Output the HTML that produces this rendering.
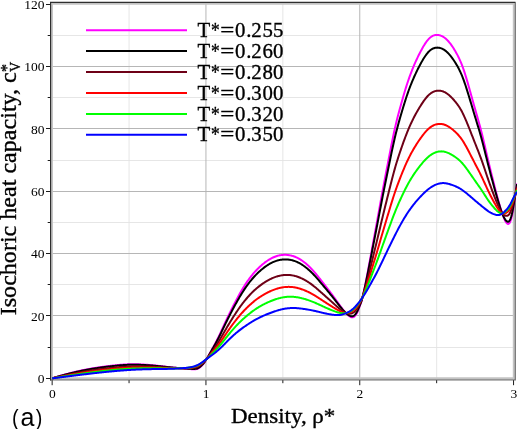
<!DOCTYPE html>
<html><head><meta charset="utf-8"><title>Isochoric heat capacity</title>
<style>
html,body{margin:0;padding:0;background:#fff;}
body{width:517px;height:429px;overflow:hidden;font-family:"Liberation Serif",serif;}
svg{display:block;will-change:transform;}
text{font-family:"Liberation Serif",serif;fill:#000;}
.sans{font-family:"Liberation Sans",sans-serif;}
.cam{stroke:#000;stroke-width:0.35px;}
</style></head><body>
<svg width="517" height="429" viewBox="0 0 517 429">
<rect x="0" y="0" width="517" height="429" fill="#ffffff"/>
<g stroke="#e3e3e3" stroke-width="0.9" fill="none"><line x1="52" x2="514" y1="347.50" y2="347.50"/><line x1="52" x2="514" y1="284.50" y2="284.50"/><line x1="52" x2="514" y1="222.50" y2="222.50"/><line x1="52" x2="514" y1="160.50" y2="160.50"/><line x1="52" x2="514" y1="97.50" y2="97.50"/><line x1="52" x2="514" y1="35.50" y2="35.50"/><line y1="378" y2="4" x1="129.05" x2="129.05"/><line y1="378" y2="4" x1="282.85" x2="282.85"/><line y1="378" y2="4" x1="436.65" x2="436.65"/></g>
<g stroke="#b2b2b2" stroke-width="0.95" fill="none"><line x1="52" x2="514" y1="315.50" y2="315.50"/><line x1="52" x2="514" y1="253.50" y2="253.50"/><line x1="52" x2="514" y1="191.50" y2="191.50"/><line x1="52" x2="514" y1="128.50" y2="128.50"/><line x1="52" x2="514" y1="66.50" y2="66.50"/><line y1="378" y2="4" x1="205.95" x2="205.95"/><line y1="378" y2="4" x1="359.75" x2="359.75"/></g>
<g fill="none"><path d="M52.05,379.2 V3.9 H513.7 V378.2 H52.05" stroke="#c3c3c3" stroke-width="1.8"/><path d="M50,379.9 H515.25 V2.4" stroke="#737373" stroke-width="1.35"/><path d="M50.6,380.6 V2.4 H515.5" stroke="#2e2e2e" stroke-width="1.2"/></g>
<g stroke="#1c1c1c" stroke-width="1.0"><line x1="46.0" x2="50.2" y1="378.50" y2="378.50"/><line x1="47.7" x2="50.2" y1="347.50" y2="347.50"/><line x1="46.0" x2="50.2" y1="315.50" y2="315.50"/><line x1="47.7" x2="50.2" y1="284.50" y2="284.50"/><line x1="46.0" x2="50.2" y1="253.50" y2="253.50"/><line x1="47.7" x2="50.2" y1="222.50" y2="222.50"/><line x1="46.0" x2="50.2" y1="191.50" y2="191.50"/><line x1="47.7" x2="50.2" y1="160.50" y2="160.50"/><line x1="46.0" x2="50.2" y1="128.50" y2="128.50"/><line x1="47.7" x2="50.2" y1="97.50" y2="97.50"/><line x1="46.0" x2="50.2" y1="66.50" y2="66.50"/><line x1="47.7" x2="50.2" y1="35.50" y2="35.50"/><line x1="46.0" x2="50.2" y1="4.50" y2="4.50"/><line y1="380.2" y2="385.2" x1="52.15" x2="52.15"/><line y1="380.2" y2="383.2" x1="129.05" x2="129.05"/><line y1="380.2" y2="385.2" x1="205.95" x2="205.95"/><line y1="380.2" y2="383.2" x1="282.85" x2="282.85"/><line y1="380.2" y2="385.2" x1="359.75" x2="359.75"/><line y1="380.2" y2="383.2" x1="436.65" x2="436.65"/><line y1="380.2" y2="385.2" x1="513.55" x2="513.55"/></g>
<text x="44.6" y="383.2" font-size="13.5" text-anchor="end">0</text><text x="44.6" y="320.8" font-size="13.5" text-anchor="end">20</text><text x="44.6" y="258.4" font-size="13.5" text-anchor="end">40</text><text x="44.6" y="196.0" font-size="13.5" text-anchor="end">60</text><text x="44.6" y="133.6" font-size="13.5" text-anchor="end">80</text><text x="44.6" y="71.2" font-size="13.5" text-anchor="end">100</text><text x="44.6" y="8.9" font-size="13.5" text-anchor="end">120</text><text x="52.4" y="398.4" font-size="13.5" text-anchor="middle">0</text><text x="206.2" y="398.4" font-size="13.5" text-anchor="middle">1</text><text x="359.9" y="398.4" font-size="13.5" text-anchor="middle">2</text><text x="513.8" y="398.4" font-size="13.5" text-anchor="middle">3</text>
<path d="M52.15,378.35 L52.82,378.14 L53.48,377.93 L54.15,377.72 L54.81,377.51 L55.48,377.30 L56.14,377.09 L56.81,376.89 L57.47,376.69 L58.14,376.49 L58.80,376.29 L59.47,376.09 L60.13,375.90 L60.80,375.70 L61.46,375.51 L62.13,375.32 L62.79,375.13 L63.46,374.94 L64.12,374.76 L64.79,374.57 L65.45,374.39 L66.12,374.21 L66.78,374.03 L67.45,373.85 L68.11,373.67 L68.78,373.50 L69.44,373.32 L70.11,373.15 L70.77,372.98 L71.44,372.82 L72.10,372.65 L72.77,372.48 L73.43,372.32 L74.10,372.16 L74.76,372.00 L75.43,371.84 L76.10,371.68 L76.76,371.53 L77.43,371.38 L78.09,371.23 L78.76,371.08 L79.42,370.93 L80.09,370.78 L80.75,370.64 L81.42,370.49 L82.08,370.35 L82.75,370.21 L83.41,370.07 L84.08,369.94 L84.74,369.80 L85.41,369.67 L86.07,369.54 L86.74,369.41 L87.40,369.28 L88.07,369.16 L88.73,369.03 L89.40,368.91 L90.06,368.79 L90.73,368.67 L91.39,368.55 L92.06,368.44 L92.72,368.32 L93.39,368.21 L94.05,368.10 L94.72,367.99 L95.38,367.88 L96.05,367.78 L96.71,367.67 L97.38,367.57 L98.05,367.47 L98.71,367.37 L99.38,367.27 L100.04,367.18 L100.71,367.08 L101.37,366.99 L102.04,366.90 L102.70,366.81 L103.37,366.72 L104.03,366.63 L104.70,366.55 L105.36,366.46 L106.03,366.38 L106.69,366.30 L107.36,366.22 L108.02,366.14 L108.69,366.06 L109.35,365.98 L110.02,365.91 L110.68,365.83 L111.35,365.75 L112.01,365.68 L112.68,365.61 L113.34,365.53 L114.01,365.46 L114.67,365.39 L115.34,365.32 L116.00,365.25 L116.67,365.19 L117.33,365.12 L118.00,365.05 L118.66,364.99 L119.33,364.93 L119.99,364.87 L120.66,364.81 L121.33,364.76 L121.99,364.70 L122.66,364.65 L123.32,364.60 L123.99,364.56 L124.65,364.52 L125.32,364.48 L125.98,364.44 L126.65,364.41 L127.31,364.38 L127.98,364.35 L128.64,364.33 L129.31,364.31 L129.97,364.29 L130.64,364.28 L131.30,364.27 L131.97,364.27 L132.63,364.27 L133.30,364.27 L133.96,364.27 L134.63,364.28 L135.29,364.29 L135.96,364.30 L136.62,364.31 L137.29,364.33 L137.95,364.35 L138.62,364.36 L139.28,364.39 L139.95,364.41 L140.61,364.44 L141.28,364.46 L141.94,364.49 L142.61,364.53 L143.28,364.56 L143.94,364.60 L144.61,364.64 L145.27,364.68 L145.94,364.72 L146.60,364.77 L147.27,364.82 L147.93,364.87 L148.60,364.92 L149.26,364.97 L149.93,365.03 L150.59,365.08 L151.26,365.14 L151.92,365.20 L152.59,365.27 L153.25,365.33 L153.92,365.40 L154.58,365.46 L155.25,365.53 L155.91,365.60 L156.58,365.67 L157.24,365.74 L157.91,365.82 L158.57,365.89 L159.24,365.96 L159.90,366.04 L160.57,366.12 L161.23,366.20 L161.90,366.27 L162.56,366.35 L163.23,366.43 L163.89,366.51 L164.56,366.59 L165.22,366.67 L165.89,366.75 L166.56,366.82 L167.22,366.90 L167.89,366.98 L168.55,367.05 L169.22,367.13 L169.88,367.20 L170.55,367.27 L171.21,367.34 L171.88,367.41 L172.54,367.48 L173.21,367.54 L173.87,367.60 L174.54,367.67 L175.20,367.73 L175.87,367.78 L176.53,367.84 L177.20,367.90 L177.86,367.96 L178.53,368.01 L179.19,368.07 L179.86,368.12 L180.52,368.18 L181.19,368.23 L181.85,368.29 L182.52,368.34 L183.18,368.40 L183.85,368.46 L184.51,368.51 L185.18,368.57 L185.84,368.63 L186.51,368.69 L187.17,368.75 L187.84,368.81 L188.51,368.88 L189.17,368.94 L189.84,369.01 L190.50,369.08 L191.17,369.14 L191.83,369.19 L192.50,369.24 L193.16,369.28 L193.83,369.30 L194.49,369.30 L195.16,369.29 L195.82,369.24 L196.49,369.13 L197.15,368.96 L197.82,368.70 L198.48,368.35 L199.15,367.92 L199.81,367.42 L200.48,366.86 L201.14,366.23 L201.81,365.56 L202.47,364.85 L203.14,364.09 L203.80,363.27 L204.47,362.36 L205.13,361.37 L205.80,360.32 L206.46,359.24 L207.13,358.14 L207.79,357.01 L208.46,355.85 L209.12,354.65 L209.79,353.42 L210.45,352.19 L211.12,350.98 L211.79,349.77 L212.45,348.57 L213.12,347.37 L213.78,346.15 L214.45,344.92 L215.11,343.67 L215.78,342.41 L216.44,341.12 L217.11,339.81 L217.77,338.47 L218.44,337.11 L219.10,335.72 L219.77,334.32 L220.43,332.89 L221.10,331.45 L221.76,330.00 L222.43,328.55 L223.09,327.10 L223.76,325.64 L224.42,324.20 L225.09,322.76 L225.75,321.34 L226.42,319.92 L227.08,318.52 L227.75,317.12 L228.41,315.74 L229.08,314.36 L229.74,313.00 L230.41,311.64 L231.07,310.30 L231.74,308.96 L232.40,307.64 L233.07,306.32 L233.73,305.01 L234.40,303.71 L235.07,302.42 L235.73,301.15 L236.40,299.88 L237.06,298.63 L237.73,297.39 L238.39,296.16 L239.06,294.95 L239.72,293.76 L240.39,292.58 L241.05,291.43 L241.72,290.28 L242.38,289.16 L243.05,288.06 L243.71,286.98 L244.38,285.92 L245.04,284.88 L245.71,283.87 L246.37,282.87 L247.04,281.89 L247.70,280.93 L248.37,279.99 L249.03,279.08 L249.70,278.18 L250.36,277.30 L251.03,276.44 L251.69,275.60 L252.36,274.78 L253.02,273.98 L253.69,273.20 L254.35,272.43 L255.02,271.69 L255.68,270.96 L256.35,270.25 L257.02,269.55 L257.68,268.87 L258.35,268.21 L259.01,267.57 L259.68,266.94 L260.34,266.32 L261.01,265.72 L261.67,265.13 L262.34,264.56 L263.00,264.00 L263.67,263.46 L264.33,262.93 L265.00,262.42 L265.66,261.92 L266.33,261.44 L266.99,260.97 L267.66,260.53 L268.32,260.09 L268.99,259.67 L269.65,259.27 L270.32,258.89 L270.98,258.52 L271.65,258.18 L272.31,257.84 L272.98,257.53 L273.64,257.23 L274.31,256.96 L274.97,256.70 L275.64,256.45 L276.30,256.23 L276.97,256.02 L277.63,255.82 L278.30,255.65 L278.96,255.49 L279.63,255.35 L280.30,255.23 L280.96,255.12 L281.63,255.03 L282.29,254.96 L282.96,254.90 L283.62,254.86 L284.29,254.84 L284.95,254.83 L285.62,254.84 L286.28,254.87 L286.95,254.91 L287.61,254.97 L288.28,255.05 L288.94,255.14 L289.61,255.26 L290.27,255.38 L290.94,255.53 L291.60,255.69 L292.27,255.87 L292.93,256.07 L293.60,256.29 L294.26,256.52 L294.93,256.78 L295.59,257.05 L296.26,257.33 L296.92,257.64 L297.59,257.96 L298.25,258.31 L298.92,258.67 L299.58,259.05 L300.25,259.44 L300.91,259.86 L301.58,260.29 L302.25,260.75 L302.91,261.22 L303.58,261.71 L304.24,262.21 L304.91,262.74 L305.57,263.28 L306.24,263.85 L306.90,264.43 L307.57,265.02 L308.23,265.64 L308.90,266.27 L309.56,266.92 L310.23,267.58 L310.89,268.26 L311.56,268.96 L312.22,269.67 L312.89,270.40 L313.55,271.15 L314.22,271.91 L314.88,272.68 L315.55,273.46 L316.21,274.26 L316.88,275.07 L317.54,275.89 L318.21,276.71 L318.87,277.55 L319.54,278.38 L320.20,279.23 L320.87,280.08 L321.53,280.93 L322.20,281.78 L322.86,282.63 L323.53,283.48 L324.19,284.34 L324.86,285.19 L325.53,286.04 L326.19,286.90 L326.86,287.76 L327.52,288.62 L328.19,289.49 L328.85,290.36 L329.52,291.23 L330.18,292.12 L330.85,293.00 L331.51,293.90 L332.18,294.80 L332.84,295.71 L333.51,296.62 L334.17,297.53 L334.84,298.45 L335.50,299.38 L336.17,300.30 L336.83,301.23 L337.50,302.16 L338.16,303.09 L338.83,304.02 L339.49,304.94 L340.16,305.86 L340.82,306.76 L341.49,307.66 L342.15,308.53 L342.82,309.39 L343.48,310.22 L344.15,311.03 L344.81,311.81 L345.48,312.56 L346.14,313.28 L346.81,313.96 L347.48,314.61 L348.14,315.21 L348.81,315.77 L349.47,316.26 L350.14,316.68 L350.80,317.00 L351.47,317.22 L352.13,317.32 L352.80,317.28 L353.46,317.06 L354.13,316.65 L354.79,316.04 L355.46,315.25 L356.12,314.32 L356.79,313.23 L357.45,311.93 L358.12,310.33 L358.78,308.57 L359.45,306.83 L360.11,305.19 L360.78,303.46 L361.44,301.42 L362.11,298.97 L362.77,296.23 L363.44,293.33 L364.10,290.31 L364.77,287.17 L365.43,283.92 L366.10,280.57 L366.76,277.15 L367.43,273.65 L368.09,270.11 L368.76,266.53 L369.42,262.93 L370.09,259.32 L370.76,255.69 L371.42,252.06 L372.09,248.43 L372.75,244.81 L373.42,241.20 L374.08,237.59 L374.75,233.98 L375.41,230.36 L376.08,226.74 L376.74,223.10 L377.41,219.45 L378.07,215.78 L378.74,212.09 L379.40,208.40 L380.07,204.71 L380.73,201.03 L381.40,197.38 L382.06,193.74 L382.73,190.15 L383.39,186.59 L384.06,183.07 L384.72,179.59 L385.39,176.12 L386.05,172.68 L386.72,169.25 L387.38,165.83 L388.05,162.40 L388.71,158.97 L389.38,155.53 L390.04,152.09 L390.71,148.68 L391.37,145.29 L392.04,141.95 L392.71,138.67 L393.37,135.45 L394.04,132.32 L394.70,129.28 L395.37,126.35 L396.03,123.52 L396.70,120.77 L397.36,118.11 L398.03,115.52 L398.69,112.99 L399.36,110.51 L400.02,108.07 L400.69,105.67 L401.35,103.30 L402.02,100.94 L402.68,98.61 L403.35,96.30 L404.01,94.02 L404.68,91.78 L405.34,89.58 L406.01,87.42 L406.67,85.31 L407.34,83.25 L408.00,81.25 L408.67,79.31 L409.33,77.42 L410.00,75.58 L410.66,73.79 L411.33,72.05 L411.99,70.34 L412.66,68.68 L413.32,67.06 L413.99,65.48 L414.65,63.93 L415.32,62.41 L415.99,60.93 L416.65,59.48 L417.32,58.06 L417.98,56.67 L418.65,55.31 L419.31,53.98 L419.98,52.68 L420.64,51.41 L421.31,50.16 L421.97,48.95 L422.64,47.76 L423.30,46.60 L423.97,45.49 L424.63,44.41 L425.30,43.38 L425.96,42.40 L426.63,41.47 L427.29,40.60 L427.96,39.79 L428.62,39.04 L429.29,38.36 L429.95,37.75 L430.62,37.21 L431.28,36.73 L431.95,36.31 L432.61,35.96 L433.28,35.66 L433.94,35.41 L434.61,35.22 L435.27,35.08 L435.94,34.99 L436.60,34.94 L437.27,34.94 L437.93,34.98 L438.60,35.07 L439.27,35.19 L439.93,35.36 L440.60,35.57 L441.26,35.83 L441.93,36.12 L442.59,36.46 L443.26,36.85 L443.92,37.28 L444.59,37.75 L445.25,38.26 L445.92,38.82 L446.58,39.43 L447.25,40.08 L447.91,40.77 L448.58,41.51 L449.24,42.30 L449.91,43.12 L450.57,43.98 L451.24,44.89 L451.90,45.83 L452.57,46.81 L453.23,47.82 L453.90,48.87 L454.56,49.95 L455.23,51.06 L455.89,52.21 L456.56,53.39 L457.22,54.61 L457.89,55.88 L458.55,57.21 L459.22,58.59 L459.88,60.04 L460.55,61.56 L461.22,63.16 L461.88,64.84 L462.55,66.60 L463.21,68.46 L463.88,70.40 L464.54,72.42 L465.21,74.51 L465.87,76.66 L466.54,78.86 L467.20,81.11 L467.87,83.40 L468.53,85.72 L469.20,88.07 L469.86,90.43 L470.53,92.80 L471.19,95.17 L471.86,97.54 L472.52,99.91 L473.19,102.28 L473.85,104.65 L474.52,107.01 L475.18,109.36 L475.85,111.71 L476.51,114.05 L477.18,116.38 L477.84,118.71 L478.51,121.06 L479.17,123.44 L479.84,125.87 L480.50,128.36 L481.17,130.93 L481.83,133.57 L482.50,136.29 L483.16,139.05 L483.83,141.86 L484.50,144.70 L485.16,147.56 L485.83,150.43 L486.49,153.30 L487.16,156.15 L487.82,158.98 L488.49,161.78 L489.15,164.55 L489.82,167.30 L490.48,170.02 L491.15,172.72 L491.81,175.41 L492.48,178.08 L493.14,180.73 L493.81,183.36 L494.47,185.98 L495.14,188.56 L495.80,191.13 L496.47,193.67 L497.13,196.17 L497.80,198.64 L498.46,201.07 L499.13,203.43 L499.79,205.74 L500.46,207.97 L501.12,210.12 L501.79,212.18 L502.45,214.13 L503.12,215.97 L503.78,217.68 L504.45,219.25 L505.11,220.64 L505.78,221.84 L506.45,222.80 L507.11,223.51 L507.78,223.90 L508.44,223.92 L509.11,223.50 L509.77,222.60 L510.44,221.16 L511.10,219.16 L511.77,216.58 L512.43,213.40 L513.10,209.61 L513.76,205.35 L514.43,200.89 L515.09,196.38 L515.76,191.91 L516.42,187.56 L517.09,183.41" fill="none" stroke="#ff00ff" stroke-width="2" stroke-linejoin="round" stroke-linecap="butt"/>
<path d="M52.15,378.35 L52.82,378.15 L53.48,377.95 L54.15,377.75 L54.81,377.55 L55.48,377.35 L56.14,377.16 L56.81,376.97 L57.47,376.77 L58.14,376.58 L58.80,376.39 L59.47,376.21 L60.13,376.02 L60.80,375.84 L61.46,375.65 L62.13,375.47 L62.79,375.29 L63.46,375.11 L64.12,374.93 L64.79,374.76 L65.45,374.58 L66.12,374.41 L66.78,374.24 L67.45,374.07 L68.11,373.90 L68.78,373.73 L69.44,373.57 L70.11,373.40 L70.77,373.24 L71.44,373.08 L72.10,372.92 L72.77,372.76 L73.43,372.61 L74.10,372.45 L74.76,372.30 L75.43,372.15 L76.10,372.00 L76.76,371.85 L77.43,371.70 L78.09,371.55 L78.76,371.41 L79.42,371.27 L80.09,371.13 L80.75,370.99 L81.42,370.85 L82.08,370.71 L82.75,370.58 L83.41,370.45 L84.08,370.32 L84.74,370.19 L85.41,370.06 L86.07,369.93 L86.74,369.81 L87.40,369.68 L88.07,369.56 L88.73,369.44 L89.40,369.32 L90.06,369.20 L90.73,369.09 L91.39,368.97 L92.06,368.86 L92.72,368.75 L93.39,368.64 L94.05,368.53 L94.72,368.43 L95.38,368.32 L96.05,368.22 L96.71,368.12 L97.38,368.02 L98.05,367.92 L98.71,367.82 L99.38,367.73 L100.04,367.63 L100.71,367.54 L101.37,367.45 L102.04,367.36 L102.70,367.27 L103.37,367.19 L104.03,367.10 L104.70,367.02 L105.36,366.93 L106.03,366.85 L106.69,366.77 L107.36,366.69 L108.02,366.61 L108.69,366.53 L109.35,366.46 L110.02,366.38 L110.68,366.31 L111.35,366.23 L112.01,366.16 L112.68,366.09 L113.34,366.02 L114.01,365.95 L114.67,365.88 L115.34,365.81 L116.00,365.74 L116.67,365.67 L117.33,365.61 L118.00,365.54 L118.66,365.48 L119.33,365.42 L119.99,365.36 L120.66,365.30 L121.33,365.25 L121.99,365.19 L122.66,365.14 L123.32,365.10 L123.99,365.05 L124.65,365.01 L125.32,364.97 L125.98,364.93 L126.65,364.89 L127.31,364.86 L127.98,364.83 L128.64,364.81 L129.31,364.79 L129.97,364.77 L130.64,364.76 L131.30,364.75 L131.97,364.74 L132.63,364.74 L133.30,364.73 L133.96,364.73 L134.63,364.74 L135.29,364.74 L135.96,364.75 L136.62,364.76 L137.29,364.77 L137.95,364.79 L138.62,364.80 L139.28,364.82 L139.95,364.84 L140.61,364.86 L141.28,364.88 L141.94,364.91 L142.61,364.94 L143.28,364.97 L143.94,365.00 L144.61,365.03 L145.27,365.07 L145.94,365.11 L146.60,365.15 L147.27,365.19 L147.93,365.23 L148.60,365.28 L149.26,365.33 L149.93,365.38 L150.59,365.43 L151.26,365.48 L151.92,365.54 L152.59,365.59 L153.25,365.65 L153.92,365.71 L154.58,365.77 L155.25,365.83 L155.91,365.89 L156.58,365.96 L157.24,366.02 L157.91,366.09 L158.57,366.15 L159.24,366.22 L159.90,366.29 L160.57,366.36 L161.23,366.43 L161.90,366.50 L162.56,366.57 L163.23,366.64 L163.89,366.72 L164.56,366.79 L165.22,366.86 L165.89,366.93 L166.56,367.00 L167.22,367.07 L167.89,367.14 L168.55,367.21 L169.22,367.27 L169.88,367.34 L170.55,367.40 L171.21,367.46 L171.88,367.52 L172.54,367.58 L173.21,367.64 L173.87,367.69 L174.54,367.75 L175.20,367.80 L175.87,367.85 L176.53,367.90 L177.20,367.95 L177.86,368.00 L178.53,368.05 L179.19,368.09 L179.86,368.14 L180.52,368.19 L181.19,368.23 L181.85,368.28 L182.52,368.32 L183.18,368.36 L183.85,368.40 L184.51,368.45 L185.18,368.49 L185.84,368.53 L186.51,368.57 L187.17,368.62 L187.84,368.66 L188.51,368.71 L189.17,368.75 L189.84,368.79 L190.50,368.84 L191.17,368.87 L191.83,368.90 L192.50,368.92 L193.16,368.93 L193.83,368.92 L194.49,368.90 L195.16,368.86 L195.82,368.78 L196.49,368.65 L197.15,368.46 L197.82,368.20 L198.48,367.85 L199.15,367.43 L199.81,366.95 L200.48,366.40 L201.14,365.81 L201.81,365.16 L202.47,364.48 L203.14,363.76 L203.80,362.98 L204.47,362.13 L205.13,361.21 L205.80,360.23 L206.46,359.22 L207.13,358.17 L207.79,357.10 L208.46,356.00 L209.12,354.86 L209.79,353.70 L210.45,352.53 L211.12,351.38 L211.79,350.23 L212.45,349.09 L213.12,347.95 L213.78,346.79 L214.45,345.62 L215.11,344.44 L215.78,343.23 L216.44,342.01 L217.11,340.76 L217.77,339.50 L218.44,338.20 L219.10,336.88 L219.77,335.54 L220.43,334.19 L221.10,332.82 L221.76,331.44 L222.43,330.05 L223.09,328.66 L223.76,327.28 L224.42,325.90 L225.09,324.53 L225.75,323.16 L226.42,321.81 L227.08,320.47 L227.75,319.14 L228.41,317.81 L229.08,316.50 L229.74,315.20 L230.41,313.90 L231.07,312.62 L231.74,311.34 L232.40,310.07 L233.07,308.82 L233.73,307.57 L234.40,306.33 L235.07,305.10 L235.73,303.88 L236.40,302.68 L237.06,301.48 L237.73,300.30 L238.39,299.14 L239.06,297.99 L239.72,296.85 L240.39,295.73 L241.05,294.63 L241.72,293.54 L242.38,292.47 L243.05,291.43 L243.71,290.40 L244.38,289.39 L245.04,288.40 L245.71,287.43 L246.37,286.48 L247.04,285.55 L247.70,284.63 L248.37,283.74 L249.03,282.86 L249.70,282.00 L250.36,281.16 L251.03,280.34 L251.69,279.54 L252.36,278.75 L253.02,277.99 L253.69,277.24 L254.35,276.50 L255.02,275.79 L255.68,275.09 L256.35,274.41 L257.02,273.74 L257.68,273.09 L258.35,272.46 L259.01,271.84 L259.68,271.23 L260.34,270.64 L261.01,270.07 L261.67,269.50 L262.34,268.95 L263.00,268.42 L263.67,267.90 L264.33,267.39 L265.00,266.90 L265.66,266.42 L266.33,265.95 L266.99,265.50 L267.66,265.07 L268.32,264.65 L268.99,264.25 L269.65,263.86 L270.32,263.49 L270.98,263.13 L271.65,262.79 L272.31,262.47 L272.98,262.16 L273.64,261.87 L274.31,261.59 L274.97,261.34 L275.64,261.10 L276.30,260.87 L276.97,260.66 L277.63,260.47 L278.30,260.29 L278.96,260.13 L279.63,259.99 L280.30,259.86 L280.96,259.75 L281.63,259.65 L282.29,259.57 L282.96,259.51 L283.62,259.46 L284.29,259.43 L284.95,259.41 L285.62,259.41 L286.28,259.43 L286.95,259.46 L287.61,259.51 L288.28,259.57 L288.94,259.65 L289.61,259.75 L290.27,259.86 L290.94,259.99 L291.60,260.14 L292.27,260.31 L292.93,260.49 L293.60,260.69 L294.26,260.90 L294.93,261.13 L295.59,261.38 L296.26,261.65 L296.92,261.93 L297.59,262.24 L298.25,262.55 L298.92,262.89 L299.58,263.24 L300.25,263.61 L300.91,264.00 L301.58,264.40 L302.25,264.82 L302.91,265.26 L303.58,265.72 L304.24,266.19 L304.91,266.68 L305.57,267.19 L306.24,267.71 L306.90,268.25 L307.57,268.80 L308.23,269.38 L308.90,269.96 L309.56,270.57 L310.23,271.19 L310.89,271.82 L311.56,272.47 L312.22,273.13 L312.89,273.81 L313.55,274.51 L314.22,275.21 L314.88,275.93 L315.55,276.66 L316.21,277.41 L316.88,278.16 L317.54,278.92 L318.21,279.69 L318.87,280.47 L319.54,281.25 L320.20,282.03 L320.87,282.82 L321.53,283.61 L322.20,284.41 L322.86,285.20 L323.53,285.99 L324.19,286.79 L324.86,287.58 L325.53,288.37 L326.19,289.17 L326.86,289.97 L327.52,290.77 L328.19,291.57 L328.85,292.38 L329.52,293.19 L330.18,294.01 L330.85,294.83 L331.51,295.65 L332.18,296.49 L332.84,297.32 L333.51,298.16 L334.17,299.01 L334.84,299.85 L335.50,300.70 L336.17,301.55 L336.83,302.40 L337.50,303.25 L338.16,304.11 L338.83,304.95 L339.49,305.80 L340.16,306.63 L340.82,307.45 L341.49,308.25 L342.15,309.04 L342.82,309.81 L343.48,310.55 L344.15,311.27 L344.81,311.96 L345.48,312.63 L346.14,313.25 L346.81,313.80 L347.48,314.32 L348.14,314.80 L348.81,315.24 L349.47,315.62 L350.14,315.92 L350.80,316.15 L351.47,316.28 L352.13,316.30 L352.80,316.18 L353.46,315.92 L354.13,315.48 L354.79,314.86 L355.46,314.09 L356.12,313.19 L356.79,312.15 L357.45,310.91 L358.12,309.42 L358.78,307.78 L359.45,306.16 L360.11,304.62 L360.78,302.99 L361.44,301.10 L362.11,298.85 L362.77,296.30 L363.44,293.56 L364.10,290.71 L364.77,287.75 L365.43,284.68 L366.10,281.53 L366.76,278.29 L367.43,275.00 L368.09,271.66 L368.76,268.29 L369.42,264.90 L370.09,261.49 L370.76,258.07 L371.42,254.64 L372.09,251.22 L372.75,247.81 L373.42,244.40 L374.08,240.99 L374.75,237.59 L375.41,234.17 L376.08,230.75 L376.74,227.32 L377.41,223.86 L378.07,220.39 L378.74,216.91 L379.40,213.41 L380.07,209.92 L380.73,206.44 L381.40,202.98 L382.06,199.53 L382.73,196.12 L383.39,192.75 L384.06,189.41 L384.72,186.10 L385.39,182.82 L386.05,179.55 L386.72,176.29 L387.38,173.04 L388.05,169.79 L388.71,166.53 L389.38,163.27 L390.04,160.01 L390.71,156.77 L391.37,153.55 L392.04,150.38 L392.71,147.26 L393.37,144.21 L394.04,141.23 L394.70,138.34 L395.37,135.54 L396.03,132.84 L396.70,130.22 L397.36,127.67 L398.03,125.19 L398.69,122.77 L399.36,120.39 L400.02,118.06 L400.69,115.76 L401.35,113.49 L402.02,111.23 L402.68,109.00 L403.35,106.79 L404.01,104.61 L404.68,102.47 L405.34,100.36 L406.01,98.29 L406.67,96.28 L407.34,94.31 L408.00,92.39 L408.67,90.53 L409.33,88.72 L410.00,86.95 L410.66,85.24 L411.33,83.56 L411.99,81.93 L412.66,80.34 L413.32,78.78 L413.99,77.26 L414.65,75.77 L415.32,74.32 L415.99,72.89 L416.65,71.50 L417.32,70.13 L417.98,68.80 L418.65,67.49 L419.31,66.22 L419.98,64.96 L420.64,63.74 L421.31,62.54 L421.97,61.37 L422.64,60.22 L423.30,59.11 L423.97,58.03 L424.63,56.99 L425.30,56.00 L425.96,55.05 L426.63,54.15 L427.29,53.31 L427.96,52.52 L428.62,51.79 L429.29,51.13 L429.95,50.53 L430.62,49.99 L431.28,49.51 L431.95,49.09 L432.61,48.73 L433.28,48.43 L433.94,48.17 L434.61,47.97 L435.27,47.81 L435.94,47.71 L436.60,47.64 L437.27,47.62 L437.93,47.64 L438.60,47.70 L439.27,47.80 L439.93,47.95 L440.60,48.13 L441.26,48.35 L441.93,48.62 L442.59,48.93 L443.26,49.28 L443.92,49.67 L444.59,50.11 L445.25,50.58 L445.92,51.11 L446.58,51.67 L447.25,52.27 L447.91,52.92 L448.58,53.62 L449.24,54.35 L449.91,55.12 L450.57,55.93 L451.24,56.77 L451.90,57.65 L452.57,58.57 L453.23,59.52 L453.90,60.50 L454.56,61.51 L455.23,62.55 L455.89,63.62 L456.56,64.72 L457.22,65.87 L457.89,67.06 L458.55,68.30 L459.22,69.60 L459.88,70.96 L460.55,72.39 L461.22,73.88 L461.88,75.46 L462.55,77.11 L463.21,78.85 L463.88,80.67 L464.54,82.56 L465.21,84.52 L465.87,86.53 L466.54,88.59 L467.20,90.69 L467.87,92.84 L468.53,95.01 L469.20,97.20 L469.86,99.41 L470.53,101.62 L471.19,103.84 L471.86,106.06 L472.52,108.28 L473.19,110.50 L473.85,112.71 L474.52,114.92 L475.18,117.12 L475.85,119.31 L476.51,121.50 L477.18,123.68 L477.84,125.86 L478.51,128.06 L479.17,130.28 L479.84,132.55 L480.50,134.88 L481.17,137.28 L481.83,139.74 L482.50,142.27 L483.16,144.85 L483.83,147.47 L484.50,150.11 L485.16,152.78 L485.83,155.45 L486.49,158.11 L487.16,160.77 L487.82,163.39 L488.49,165.99 L489.15,168.57 L489.82,171.11 L490.48,173.64 L491.15,176.14 L491.81,178.63 L492.48,181.09 L493.14,183.54 L493.81,185.98 L494.47,188.39 L495.14,190.77 L495.80,193.14 L496.47,195.47 L497.13,197.78 L497.80,200.04 L498.46,202.25 L499.13,204.41 L499.79,206.51 L500.46,208.53 L501.12,210.47 L501.79,212.32 L502.45,214.03 L503.12,215.55 L503.78,216.96 L504.45,218.24 L505.11,219.37 L505.78,220.31 L506.45,221.05 L507.11,221.56 L507.78,221.79 L508.44,221.69 L509.11,221.20 L509.77,220.28 L510.44,218.87 L511.10,216.97 L511.77,214.56 L512.43,211.62 L513.10,208.16 L513.76,204.29 L514.43,200.24 L515.09,196.17 L515.76,192.06 L516.42,188.00 L517.09,184.13" fill="none" stroke="#000000" stroke-width="2" stroke-linejoin="round" stroke-linecap="butt"/>
<path d="M52.15,378.35 L52.82,378.19 L53.48,378.02 L54.15,377.86 L54.81,377.70 L55.48,377.54 L56.14,377.38 L56.81,377.22 L57.47,377.06 L58.14,376.90 L58.80,376.75 L59.47,376.59 L60.13,376.44 L60.80,376.29 L61.46,376.13 L62.13,375.98 L62.79,375.83 L63.46,375.69 L64.12,375.54 L64.79,375.39 L65.45,375.24 L66.12,375.10 L66.78,374.96 L67.45,374.81 L68.11,374.67 L68.78,374.53 L69.44,374.39 L70.11,374.25 L70.77,374.12 L71.44,373.98 L72.10,373.84 L72.77,373.71 L73.43,373.58 L74.10,373.44 L74.76,373.31 L75.43,373.18 L76.10,373.05 L76.76,372.93 L77.43,372.80 L78.09,372.67 L78.76,372.55 L79.42,372.43 L80.09,372.31 L80.75,372.18 L81.42,372.06 L82.08,371.95 L82.75,371.83 L83.41,371.71 L84.08,371.60 L84.74,371.48 L85.41,371.37 L86.07,371.26 L86.74,371.15 L87.40,371.04 L88.07,370.93 L88.73,370.82 L89.40,370.72 L90.06,370.61 L90.73,370.51 L91.39,370.41 L92.06,370.31 L92.72,370.21 L93.39,370.11 L94.05,370.01 L94.72,369.91 L95.38,369.82 L96.05,369.72 L96.71,369.63 L97.38,369.54 L98.05,369.45 L98.71,369.36 L99.38,369.27 L100.04,369.19 L100.71,369.10 L101.37,369.01 L102.04,368.93 L102.70,368.85 L103.37,368.77 L104.03,368.69 L104.70,368.61 L105.36,368.53 L106.03,368.45 L106.69,368.37 L107.36,368.30 L108.02,368.22 L108.69,368.15 L109.35,368.08 L110.02,368.00 L110.68,367.93 L111.35,367.86 L112.01,367.79 L112.68,367.72 L113.34,367.66 L114.01,367.59 L114.67,367.52 L115.34,367.46 L116.00,367.39 L116.67,367.33 L117.33,367.26 L118.00,367.20 L118.66,367.14 L119.33,367.08 L119.99,367.03 L120.66,366.97 L121.33,366.92 L121.99,366.86 L122.66,366.81 L123.32,366.76 L123.99,366.72 L124.65,366.67 L125.32,366.63 L125.98,366.59 L126.65,366.55 L127.31,366.52 L127.98,366.48 L128.64,366.45 L129.31,366.43 L129.97,366.40 L130.64,366.38 L131.30,366.36 L131.97,366.35 L132.63,366.33 L133.30,366.32 L133.96,366.31 L134.63,366.30 L135.29,366.29 L135.96,366.29 L136.62,366.29 L137.29,366.29 L137.95,366.29 L138.62,366.29 L139.28,366.29 L139.95,366.30 L140.61,366.30 L141.28,366.31 L141.94,366.32 L142.61,366.34 L143.28,366.35 L143.94,366.36 L144.61,366.38 L145.27,366.40 L145.94,366.42 L146.60,366.44 L147.27,366.46 L147.93,366.49 L148.60,366.52 L149.26,366.54 L149.93,366.57 L150.59,366.60 L151.26,366.64 L151.92,366.67 L152.59,366.70 L153.25,366.74 L153.92,366.77 L154.58,366.81 L155.25,366.85 L155.91,366.89 L156.58,366.93 L157.24,366.97 L157.91,367.01 L158.57,367.06 L159.24,367.10 L159.90,367.14 L160.57,367.19 L161.23,367.23 L161.90,367.28 L162.56,367.33 L163.23,367.37 L163.89,367.42 L164.56,367.46 L165.22,367.51 L165.89,367.55 L166.56,367.60 L167.22,367.64 L167.89,367.68 L168.55,367.73 L169.22,367.77 L169.88,367.80 L170.55,367.84 L171.21,367.88 L171.88,367.91 L172.54,367.94 L173.21,367.97 L173.87,368.00 L174.54,368.03 L175.20,368.06 L175.87,368.08 L176.53,368.10 L177.20,368.12 L177.86,368.15 L178.53,368.17 L179.19,368.19 L179.86,368.20 L180.52,368.22 L181.19,368.24 L181.85,368.25 L182.52,368.25 L183.18,368.25 L183.85,368.25 L184.51,368.25 L185.18,368.24 L185.84,368.24 L186.51,368.23 L187.17,368.22 L187.84,368.21 L188.51,368.19 L189.17,368.17 L189.84,368.15 L190.50,368.12 L191.17,368.08 L191.83,368.03 L192.50,367.97 L193.16,367.90 L193.83,367.81 L194.49,367.70 L195.16,367.58 L195.82,367.42 L196.49,367.23 L197.15,366.99 L197.82,366.71 L198.48,366.36 L199.15,365.97 L199.81,365.53 L200.48,365.05 L201.14,364.53 L201.81,363.98 L202.47,363.39 L203.14,362.77 L203.80,362.12 L204.47,361.43 L205.13,360.70 L205.80,359.94 L206.46,359.16 L207.13,358.31 L207.79,357.42 L208.46,356.51 L209.12,355.58 L209.79,354.63 L210.45,353.68 L211.12,352.74 L211.79,351.80 L212.45,350.86 L213.12,349.92 L213.78,348.97 L214.45,348.01 L215.11,347.04 L215.78,346.05 L216.44,345.04 L217.11,344.02 L217.77,342.97 L218.44,341.91 L219.10,340.82 L219.77,339.71 L220.43,338.59 L221.10,337.45 L221.76,336.30 L222.43,335.15 L223.09,333.99 L223.76,332.83 L224.42,331.68 L225.09,330.52 L225.75,329.38 L226.42,328.24 L227.08,327.11 L227.75,325.98 L228.41,324.87 L229.08,323.76 L229.74,322.66 L230.41,321.57 L231.07,320.49 L231.74,319.42 L232.40,318.36 L233.07,317.30 L233.73,316.26 L234.40,315.22 L235.07,314.20 L235.73,313.18 L236.40,312.18 L237.06,311.19 L237.73,310.21 L238.39,309.24 L239.06,308.29 L239.72,307.35 L240.39,306.42 L241.05,305.51 L241.72,304.62 L242.38,303.73 L243.05,302.87 L243.71,302.01 L244.38,301.18 L245.04,300.36 L245.71,299.55 L246.37,298.75 L247.04,297.98 L247.70,297.21 L248.37,296.46 L249.03,295.72 L249.70,295.00 L250.36,294.29 L251.03,293.60 L251.69,292.92 L252.36,292.25 L253.02,291.60 L253.69,290.97 L254.35,290.35 L255.02,289.74 L255.68,289.14 L256.35,288.56 L257.02,288.00 L257.68,287.44 L258.35,286.90 L259.01,286.37 L259.68,285.85 L260.34,285.35 L261.01,284.85 L261.67,284.37 L262.34,283.90 L263.00,283.43 L263.67,282.98 L264.33,282.55 L265.00,282.12 L265.66,281.70 L266.33,281.30 L266.99,280.90 L267.66,280.52 L268.32,280.15 L268.99,279.79 L269.65,279.44 L270.32,279.11 L270.98,278.79 L271.65,278.48 L272.31,278.18 L272.98,277.90 L273.64,277.62 L274.31,277.36 L274.97,277.12 L275.64,276.88 L276.30,276.66 L276.97,276.45 L277.63,276.26 L278.30,276.07 L278.96,275.91 L279.63,275.75 L280.30,275.61 L280.96,275.48 L281.63,275.36 L282.29,275.26 L282.96,275.17 L283.62,275.09 L284.29,275.03 L284.95,274.98 L285.62,274.95 L286.28,274.93 L286.95,274.92 L287.61,274.93 L288.28,274.95 L288.94,274.98 L289.61,275.03 L290.27,275.10 L290.94,275.17 L291.60,275.27 L292.27,275.37 L292.93,275.50 L293.60,275.63 L294.26,275.79 L294.93,275.95 L295.59,276.13 L296.26,276.33 L296.92,276.53 L297.59,276.76 L298.25,276.99 L298.92,277.24 L299.58,277.50 L300.25,277.78 L300.91,278.07 L301.58,278.37 L302.25,278.69 L302.91,279.01 L303.58,279.36 L304.24,279.71 L304.91,280.07 L305.57,280.45 L306.24,280.84 L306.90,281.25 L307.57,281.66 L308.23,282.09 L308.90,282.53 L309.56,282.98 L310.23,283.44 L310.89,283.91 L311.56,284.40 L312.22,284.90 L312.89,285.40 L313.55,285.92 L314.22,286.45 L314.88,286.99 L315.55,287.54 L316.21,288.10 L316.88,288.66 L317.54,289.23 L318.21,289.81 L318.87,290.39 L319.54,290.98 L320.20,291.57 L320.87,292.16 L321.53,292.75 L322.20,293.34 L322.86,293.94 L323.53,294.53 L324.19,295.12 L324.86,295.71 L325.53,296.30 L326.19,296.89 L326.86,297.47 L327.52,298.06 L328.19,298.66 L328.85,299.25 L329.52,299.84 L330.18,300.43 L330.85,301.03 L331.51,301.63 L332.18,302.22 L332.84,302.82 L333.51,303.42 L334.17,304.02 L334.84,304.62 L335.50,305.21 L336.17,305.80 L336.83,306.39 L337.50,306.98 L338.16,307.56 L338.83,308.13 L339.49,308.70 L340.16,309.24 L340.82,309.77 L341.49,310.28 L342.15,310.77 L342.82,311.24 L343.48,311.68 L344.15,312.09 L344.81,312.49 L345.48,312.85 L346.14,313.16 L346.81,313.33 L347.48,313.47 L348.14,313.58 L348.81,313.66 L349.47,313.69 L350.14,313.67 L350.80,313.60 L351.47,313.45 L352.13,313.23 L352.80,312.92 L353.46,312.51 L354.13,311.99 L354.79,311.36 L355.46,310.63 L356.12,309.81 L356.79,308.91 L357.45,307.88 L358.12,306.71 L358.78,305.43 L359.45,304.16 L360.11,302.91 L360.78,301.61 L361.44,300.15 L362.11,298.48 L362.77,296.54 L363.44,294.34 L364.10,292.06 L364.77,289.70 L365.43,287.27 L366.10,284.76 L366.76,282.20 L367.43,279.59 L368.09,276.94 L368.76,274.27 L369.42,271.58 L370.09,268.87 L370.76,266.16 L371.42,263.44 L372.09,260.72 L372.75,258.00 L373.42,255.29 L374.08,252.58 L374.75,249.86 L375.41,247.13 L376.08,244.39 L376.74,241.64 L377.41,238.87 L378.07,236.08 L378.74,233.28 L379.40,230.47 L380.07,227.65 L380.73,224.83 L381.40,222.02 L382.06,219.22 L382.73,216.45 L383.39,213.69 L384.06,210.97 L384.72,208.26 L385.39,205.57 L386.05,202.89 L386.72,200.23 L387.38,197.56 L388.05,194.90 L388.71,192.24 L389.38,189.57 L390.04,186.91 L390.71,184.27 L391.37,181.64 L392.04,179.04 L392.71,176.49 L393.37,173.97 L394.04,171.51 L394.70,169.12 L395.37,166.79 L396.03,164.53 L396.70,162.33 L397.36,160.18 L398.03,158.08 L398.69,156.03 L399.36,154.01 L400.02,152.03 L400.69,150.07 L401.35,148.14 L402.02,146.23 L402.68,144.33 L403.35,142.46 L404.01,140.62 L404.68,138.80 L405.34,137.02 L406.01,135.27 L406.67,133.56 L407.34,131.89 L408.00,130.26 L408.67,128.67 L409.33,127.13 L410.00,125.62 L410.66,124.16 L411.33,122.72 L411.99,121.33 L412.66,119.96 L413.32,118.63 L413.99,117.32 L414.65,116.04 L415.32,114.79 L415.99,113.57 L416.65,112.37 L417.32,111.19 L417.98,110.04 L418.65,108.92 L419.31,107.81 L419.98,106.73 L420.64,105.66 L421.31,104.62 L421.97,103.60 L422.64,102.60 L423.30,101.63 L423.97,100.69 L424.63,99.78 L425.30,98.90 L425.96,98.06 L426.63,97.26 L427.29,96.50 L427.96,95.79 L428.62,95.13 L429.29,94.51 L429.95,93.95 L430.62,93.43 L431.28,92.97 L431.95,92.55 L432.61,92.17 L433.28,91.85 L433.94,91.56 L434.61,91.32 L435.27,91.11 L435.94,90.95 L436.60,90.82 L437.27,90.73 L437.93,90.68 L438.60,90.66 L439.27,90.68 L439.93,90.73 L440.60,90.82 L441.26,90.94 L441.93,91.11 L442.59,91.31 L443.26,91.54 L443.92,91.82 L444.59,92.13 L445.25,92.48 L445.92,92.87 L446.58,93.29 L447.25,93.74 L447.91,94.24 L448.58,94.76 L449.24,95.32 L449.91,95.91 L450.57,96.53 L451.24,97.18 L451.90,97.85 L452.57,98.55 L453.23,99.28 L453.90,100.03 L454.56,100.80 L455.23,101.60 L455.89,102.42 L456.56,103.27 L457.22,104.15 L457.89,105.07 L458.55,106.03 L459.22,107.03 L459.88,108.09 L460.55,109.19 L461.22,110.35 L461.88,111.57 L462.55,112.85 L463.21,114.19 L463.88,115.59 L464.54,117.04 L465.21,118.54 L465.87,120.08 L466.54,121.66 L467.20,123.27 L467.87,124.91 L468.53,126.57 L469.20,128.25 L469.86,129.94 L470.53,131.64 L471.19,133.33 L471.86,135.03 L472.52,136.73 L473.19,138.43 L473.85,140.12 L474.52,141.81 L475.18,143.50 L475.85,145.18 L476.51,146.85 L477.18,148.52 L477.84,150.19 L478.51,151.86 L479.17,153.56 L479.84,155.29 L480.50,157.05 L481.17,158.87 L481.83,160.73 L482.50,162.63 L483.16,164.56 L483.83,166.53 L484.50,168.51 L485.16,170.50 L485.83,172.49 L486.49,174.47 L487.16,176.45 L487.82,178.39 L488.49,180.32 L489.15,182.22 L489.82,184.09 L490.48,185.94 L491.15,187.76 L491.81,189.56 L492.48,191.35 L493.14,193.11 L493.81,194.86 L494.47,196.58 L495.14,198.29 L495.80,199.97 L496.47,201.62 L497.13,203.23 L497.80,204.79 L498.46,206.30 L499.13,207.74 L499.79,209.12 L500.46,210.42 L501.12,211.65 L501.79,212.79 L502.45,213.72 L503.12,214.32 L503.78,214.83 L504.45,215.25 L505.11,215.56 L505.78,215.76 L506.45,215.84 L507.11,215.77 L507.78,215.52 L508.44,215.06 L509.11,214.35 L509.77,213.36 L510.44,212.07 L511.10,210.46 L511.77,208.55 L512.43,206.33 L513.10,203.83 L513.76,201.11 L514.43,198.32 L515.09,195.55 L515.76,192.57 L516.42,189.48 L517.09,186.56" fill="none" stroke="#6e0016" stroke-width="2" stroke-linejoin="round" stroke-linecap="butt"/>
<path d="M52.15,378.35 L52.82,378.21 L53.48,378.08 L54.15,377.95 L54.81,377.81 L55.48,377.68 L56.14,377.55 L56.81,377.42 L57.47,377.28 L58.14,377.15 L58.80,377.02 L59.47,376.89 L60.13,376.76 L60.80,376.64 L61.46,376.51 L62.13,376.38 L62.79,376.26 L63.46,376.13 L64.12,376.01 L64.79,375.88 L65.45,375.76 L66.12,375.63 L66.78,375.51 L67.45,375.39 L68.11,375.27 L68.78,375.15 L69.44,375.03 L70.11,374.91 L70.77,374.79 L71.44,374.68 L72.10,374.56 L72.77,374.44 L73.43,374.33 L74.10,374.21 L74.76,374.10 L75.43,373.99 L76.10,373.87 L76.76,373.76 L77.43,373.65 L78.09,373.54 L78.76,373.43 L79.42,373.33 L80.09,373.22 L80.75,373.11 L81.42,373.01 L82.08,372.90 L82.75,372.80 L83.41,372.69 L84.08,372.59 L84.74,372.49 L85.41,372.39 L86.07,372.29 L86.74,372.19 L87.40,372.09 L88.07,371.99 L88.73,371.90 L89.40,371.80 L90.06,371.71 L90.73,371.61 L91.39,371.52 L92.06,371.43 L92.72,371.33 L93.39,371.24 L94.05,371.15 L94.72,371.07 L95.38,370.98 L96.05,370.89 L96.71,370.80 L97.38,370.72 L98.05,370.64 L98.71,370.55 L99.38,370.47 L100.04,370.39 L100.71,370.31 L101.37,370.23 L102.04,370.15 L102.70,370.07 L103.37,369.99 L104.03,369.92 L104.70,369.84 L105.36,369.76 L106.03,369.69 L106.69,369.62 L107.36,369.54 L108.02,369.47 L108.69,369.40 L109.35,369.33 L110.02,369.26 L110.68,369.19 L111.35,369.13 L112.01,369.06 L112.68,368.99 L113.34,368.93 L114.01,368.86 L114.67,368.80 L115.34,368.73 L116.00,368.67 L116.67,368.61 L117.33,368.55 L118.00,368.49 L118.66,368.43 L119.33,368.37 L119.99,368.32 L120.66,368.26 L121.33,368.21 L121.99,368.16 L122.66,368.11 L123.32,368.06 L123.99,368.01 L124.65,367.96 L125.32,367.92 L125.98,367.88 L126.65,367.84 L127.31,367.80 L127.98,367.76 L128.64,367.73 L129.31,367.70 L129.97,367.67 L130.64,367.64 L131.30,367.61 L131.97,367.59 L132.63,367.57 L133.30,367.55 L133.96,367.53 L134.63,367.51 L135.29,367.50 L135.96,367.48 L136.62,367.47 L137.29,367.46 L137.95,367.45 L138.62,367.44 L139.28,367.43 L139.95,367.43 L140.61,367.42 L141.28,367.42 L141.94,367.42 L142.61,367.42 L143.28,367.42 L143.94,367.42 L144.61,367.43 L145.27,367.43 L145.94,367.44 L146.60,367.44 L147.27,367.45 L147.93,367.46 L148.60,367.47 L149.26,367.49 L149.93,367.50 L150.59,367.51 L151.26,367.53 L151.92,367.55 L152.59,367.56 L153.25,367.58 L153.92,367.60 L154.58,367.62 L155.25,367.64 L155.91,367.66 L156.58,367.69 L157.24,367.71 L157.91,367.73 L158.57,367.76 L159.24,367.78 L159.90,367.81 L160.57,367.83 L161.23,367.86 L161.90,367.88 L162.56,367.91 L163.23,367.94 L163.89,367.96 L164.56,367.99 L165.22,368.01 L165.89,368.04 L166.56,368.06 L167.22,368.08 L167.89,368.11 L168.55,368.13 L169.22,368.15 L169.88,368.17 L170.55,368.18 L171.21,368.20 L171.88,368.21 L172.54,368.22 L173.21,368.23 L173.87,368.24 L174.54,368.25 L175.20,368.25 L175.87,368.26 L176.53,368.26 L177.20,368.26 L177.86,368.26 L178.53,368.26 L179.19,368.26 L179.86,368.25 L180.52,368.25 L181.19,368.25 L181.85,368.23 L182.52,368.20 L183.18,368.18 L183.85,368.15 L184.51,368.13 L185.18,368.09 L185.84,368.06 L186.51,368.02 L187.17,367.98 L187.84,367.93 L188.51,367.88 L189.17,367.82 L189.84,367.75 L190.50,367.68 L191.17,367.59 L191.83,367.50 L192.50,367.39 L193.16,367.27 L193.83,367.13 L194.49,366.97 L195.16,366.80 L195.82,366.59 L196.49,366.36 L197.15,366.10 L197.82,365.80 L198.48,365.46 L199.15,365.09 L199.81,364.68 L200.48,364.23 L201.14,363.76 L201.81,363.25 L202.47,362.73 L203.14,362.18 L203.80,361.61 L204.47,361.01 L205.13,360.39 L205.80,359.76 L206.46,359.13 L207.13,358.41 L207.79,357.67 L208.46,356.91 L209.12,356.14 L209.79,355.35 L210.45,354.57 L211.12,353.79 L211.79,353.01 L212.45,352.24 L213.12,351.45 L213.78,350.66 L214.45,349.87 L215.11,349.05 L215.78,348.23 L216.44,347.39 L217.11,346.54 L217.77,345.67 L218.44,344.78 L219.10,343.87 L219.77,342.94 L220.43,342.00 L221.10,341.05 L221.76,340.08 L222.43,339.10 L223.09,338.12 L223.76,337.14 L224.42,336.15 L225.09,335.17 L225.75,334.19 L226.42,333.22 L227.08,332.25 L227.75,331.29 L228.41,330.33 L229.08,329.39 L229.74,328.45 L230.41,327.52 L231.07,326.60 L231.74,325.68 L232.40,324.78 L233.07,323.88 L233.73,322.99 L234.40,322.12 L235.07,321.25 L235.73,320.39 L236.40,319.55 L237.06,318.71 L237.73,317.89 L238.39,317.08 L239.06,316.28 L239.72,315.49 L240.39,314.71 L241.05,313.95 L241.72,313.20 L242.38,312.46 L243.05,311.73 L243.71,311.02 L244.38,310.31 L245.04,309.62 L245.71,308.94 L246.37,308.27 L247.04,307.61 L247.70,306.96 L248.37,306.32 L249.03,305.69 L249.70,305.08 L250.36,304.47 L251.03,303.88 L251.69,303.29 L252.36,302.72 L253.02,302.16 L253.69,301.61 L254.35,301.07 L255.02,300.55 L255.68,300.03 L256.35,299.53 L257.02,299.04 L257.68,298.56 L258.35,298.09 L259.01,297.63 L259.68,297.18 L260.34,296.74 L261.01,296.31 L261.67,295.89 L262.34,295.48 L263.00,295.07 L263.67,294.68 L264.33,294.29 L265.00,293.91 L265.66,293.55 L266.33,293.19 L266.99,292.84 L267.66,292.49 L268.32,292.16 L268.99,291.84 L269.65,291.52 L270.32,291.22 L270.98,290.92 L271.65,290.64 L272.31,290.36 L272.98,290.09 L273.64,289.84 L274.31,289.59 L274.97,289.35 L275.64,289.12 L276.30,288.90 L276.97,288.69 L277.63,288.50 L278.30,288.31 L278.96,288.13 L279.63,287.97 L280.30,287.81 L280.96,287.67 L281.63,287.53 L282.29,287.41 L282.96,287.30 L283.62,287.21 L284.29,287.12 L284.95,287.05 L285.62,286.99 L286.28,286.94 L286.95,286.90 L287.61,286.88 L288.28,286.86 L288.94,286.86 L289.61,286.88 L290.27,286.90 L290.94,286.94 L291.60,286.99 L292.27,287.05 L292.93,287.13 L293.60,287.22 L294.26,287.32 L294.93,287.44 L295.59,287.56 L296.26,287.70 L296.92,287.85 L297.59,288.01 L298.25,288.18 L298.92,288.37 L299.58,288.56 L300.25,288.76 L300.91,288.98 L301.58,289.20 L302.25,289.43 L302.91,289.67 L303.58,289.93 L304.24,290.19 L304.91,290.46 L305.57,290.73 L306.24,291.02 L306.90,291.32 L307.57,291.63 L308.23,291.94 L308.90,292.26 L309.56,292.60 L310.23,292.94 L310.89,293.29 L311.56,293.65 L312.22,294.01 L312.89,294.39 L313.55,294.77 L314.22,295.17 L314.88,295.57 L315.55,295.97 L316.21,296.39 L316.88,296.80 L317.54,297.23 L318.21,297.66 L318.87,298.09 L319.54,298.52 L320.20,298.96 L320.87,299.39 L321.53,299.83 L322.20,300.27 L322.86,300.71 L323.53,301.14 L324.19,301.57 L324.86,302.01 L325.53,302.44 L326.19,302.87 L326.86,303.29 L327.52,303.72 L328.19,304.15 L328.85,304.57 L329.52,304.99 L330.18,305.41 L330.85,305.83 L331.51,306.25 L332.18,306.67 L332.84,307.09 L333.51,307.50 L334.17,307.90 L334.84,308.31 L335.50,308.71 L336.17,309.10 L336.83,309.49 L337.50,309.87 L338.16,310.24 L338.83,310.60 L339.49,310.94 L340.16,311.27 L340.82,311.58 L341.49,311.86 L342.15,312.11 L342.82,312.34 L343.48,312.55 L344.15,312.73 L344.81,312.89 L345.48,313.03 L346.14,313.11 L346.81,313.04 L347.48,312.95 L348.14,312.84 L348.81,312.70 L349.47,312.52 L350.14,312.31 L350.80,312.05 L351.47,311.74 L352.13,311.37 L352.80,310.94 L353.46,310.45 L354.13,309.88 L354.79,309.24 L355.46,308.53 L356.12,307.77 L356.79,306.94 L357.45,306.04 L358.12,305.06 L358.78,304.00 L359.45,302.94 L360.11,301.87 L360.78,300.77 L361.44,299.57 L362.11,298.26 L362.77,296.72 L363.44,294.95 L364.10,293.12 L364.77,291.22 L365.43,289.27 L366.10,287.27 L366.76,285.23 L367.43,283.14 L368.09,281.04 L368.76,278.91 L369.42,276.76 L370.09,274.60 L370.76,272.43 L371.42,270.26 L372.09,268.08 L372.75,265.91 L373.42,263.73 L374.08,261.55 L374.75,259.37 L375.41,257.17 L376.08,254.96 L376.74,252.74 L377.41,250.50 L378.07,248.25 L378.74,245.97 L379.40,243.68 L380.07,241.38 L380.73,239.08 L381.40,236.78 L382.06,234.48 L382.73,232.20 L383.39,229.93 L384.06,227.67 L384.72,225.43 L385.39,223.20 L386.05,220.99 L386.72,218.78 L387.38,216.57 L388.05,214.37 L388.71,212.17 L389.38,209.97 L390.04,207.77 L390.71,205.58 L391.37,203.41 L392.04,201.26 L392.71,199.14 L393.37,197.04 L394.04,194.99 L394.70,192.98 L395.37,191.01 L396.03,189.09 L396.70,187.22 L397.36,185.38 L398.03,183.58 L398.69,181.81 L399.36,180.07 L400.02,178.36 L400.69,176.67 L401.35,175.00 L402.02,173.35 L402.68,171.72 L403.35,170.11 L404.01,168.53 L404.68,166.97 L405.34,165.43 L406.01,163.93 L406.67,162.46 L407.34,161.02 L408.00,159.61 L408.67,158.24 L409.33,156.90 L410.00,155.59 L410.66,154.32 L411.33,153.08 L411.99,151.86 L412.66,150.67 L413.32,149.51 L413.99,148.37 L414.65,147.26 L415.32,146.17 L415.99,145.10 L416.65,144.05 L417.32,143.02 L417.98,142.01 L418.65,141.02 L419.31,140.05 L419.98,139.09 L420.64,138.16 L421.31,137.24 L421.97,136.33 L422.64,135.45 L423.30,134.59 L423.97,133.75 L424.63,132.94 L425.30,132.15 L425.96,131.40 L426.63,130.67 L427.29,129.98 L427.96,129.33 L428.62,128.72 L429.29,128.14 L429.95,127.60 L430.62,127.11 L431.28,126.65 L431.95,126.23 L432.61,125.85 L433.28,125.50 L433.94,125.19 L434.61,124.91 L435.27,124.67 L435.94,124.46 L436.60,124.29 L437.27,124.15 L437.93,124.03 L438.60,123.95 L439.27,123.91 L439.93,123.89 L440.60,123.91 L441.26,123.96 L441.93,124.04 L442.59,124.15 L443.26,124.30 L443.92,124.49 L444.59,124.70 L445.25,124.95 L445.92,125.23 L446.58,125.55 L447.25,125.89 L447.91,126.26 L448.58,126.66 L449.24,127.08 L449.91,127.53 L450.57,128.00 L451.24,128.50 L451.90,129.01 L452.57,129.54 L453.23,130.10 L453.90,130.67 L454.56,131.25 L455.23,131.86 L455.89,132.49 L456.56,133.14 L457.22,133.82 L457.89,134.53 L458.55,135.27 L459.22,136.05 L459.88,136.86 L460.55,137.71 L461.22,138.61 L461.88,139.55 L462.55,140.54 L463.21,141.57 L463.88,142.65 L464.54,143.76 L465.21,144.91 L465.87,146.09 L466.54,147.30 L467.20,148.53 L467.87,149.78 L468.53,151.04 L469.20,152.32 L469.86,153.61 L470.53,154.90 L471.19,156.19 L471.86,157.49 L472.52,158.78 L473.19,160.08 L473.85,161.37 L474.52,162.66 L475.18,163.94 L475.85,165.23 L476.51,166.50 L477.18,167.77 L477.84,169.04 L478.51,170.32 L479.17,171.60 L479.84,172.91 L480.50,174.24 L481.17,175.60 L481.83,176.99 L482.50,178.41 L483.16,179.85 L483.83,181.30 L484.50,182.76 L485.16,184.23 L485.83,185.70 L486.49,187.16 L487.16,188.60 L487.82,190.02 L488.49,191.42 L489.15,192.79 L489.82,194.14 L490.48,195.47 L491.15,196.77 L491.81,198.04 L492.48,199.30 L493.14,200.53 L493.81,201.74 L494.47,202.94 L495.14,204.11 L495.80,205.26 L496.47,206.38 L497.13,207.45 L497.80,208.47 L498.46,209.43 L499.13,210.32 L499.79,211.14 L500.46,211.89 L501.12,212.56 L501.79,213.16 L502.45,213.54 L503.12,213.58 L503.78,213.54 L504.45,213.43 L505.11,213.25 L505.78,213.00 L506.45,212.67 L507.11,212.24 L507.78,211.70 L508.44,211.03 L509.11,210.18 L509.77,209.16 L510.44,207.93 L511.10,206.50 L511.77,204.89 L512.43,203.12 L513.10,201.20 L513.76,199.19 L514.43,197.16 L515.09,195.17 L515.76,192.97 L516.42,190.62 L517.09,188.45" fill="none" stroke="#ff0000" stroke-width="2" stroke-linejoin="round" stroke-linecap="butt"/>
<path d="M52.15,378.35 L52.82,378.24 L53.48,378.13 L54.15,378.02 L54.81,377.91 L55.48,377.80 L56.14,377.69 L56.81,377.58 L57.47,377.47 L58.14,377.36 L58.80,377.25 L59.47,377.14 L60.13,377.03 L60.80,376.93 L61.46,376.82 L62.13,376.71 L62.79,376.61 L63.46,376.50 L64.12,376.39 L64.79,376.29 L65.45,376.18 L66.12,376.08 L66.78,375.97 L67.45,375.87 L68.11,375.77 L68.78,375.66 L69.44,375.56 L70.11,375.46 L70.77,375.36 L71.44,375.25 L72.10,375.15 L72.77,375.05 L73.43,374.95 L74.10,374.85 L74.76,374.75 L75.43,374.65 L76.10,374.56 L76.76,374.46 L77.43,374.36 L78.09,374.26 L78.76,374.17 L79.42,374.07 L80.09,373.98 L80.75,373.88 L81.42,373.79 L82.08,373.69 L82.75,373.60 L83.41,373.51 L84.08,373.42 L84.74,373.32 L85.41,373.23 L86.07,373.14 L86.74,373.05 L87.40,372.96 L88.07,372.88 L88.73,372.79 L89.40,372.70 L90.06,372.61 L90.73,372.53 L91.39,372.44 L92.06,372.36 L92.72,372.27 L93.39,372.19 L94.05,372.10 L94.72,372.02 L95.38,371.94 L96.05,371.86 L96.71,371.78 L97.38,371.70 L98.05,371.62 L98.71,371.54 L99.38,371.46 L100.04,371.39 L100.71,371.31 L101.37,371.23 L102.04,371.16 L102.70,371.08 L103.37,371.01 L104.03,370.94 L104.70,370.86 L105.36,370.79 L106.03,370.72 L106.69,370.65 L107.36,370.58 L108.02,370.51 L108.69,370.44 L109.35,370.37 L110.02,370.31 L110.68,370.24 L111.35,370.17 L112.01,370.11 L112.68,370.04 L113.34,369.98 L114.01,369.92 L114.67,369.86 L115.34,369.79 L116.00,369.73 L116.67,369.67 L117.33,369.61 L118.00,369.56 L118.66,369.50 L119.33,369.44 L119.99,369.39 L120.66,369.33 L121.33,369.28 L121.99,369.23 L122.66,369.18 L123.32,369.13 L123.99,369.08 L124.65,369.04 L125.32,368.99 L125.98,368.95 L126.65,368.90 L127.31,368.86 L127.98,368.82 L128.64,368.79 L129.31,368.75 L129.97,368.72 L130.64,368.68 L131.30,368.65 L131.97,368.62 L132.63,368.59 L133.30,368.57 L133.96,368.54 L134.63,368.52 L135.29,368.50 L135.96,368.47 L136.62,368.45 L137.29,368.43 L137.95,368.42 L138.62,368.40 L139.28,368.38 L139.95,368.37 L140.61,368.35 L141.28,368.34 L141.94,368.33 L142.61,368.32 L143.28,368.31 L143.94,368.30 L144.61,368.29 L145.27,368.29 L145.94,368.28 L146.60,368.28 L147.27,368.27 L147.93,368.27 L148.60,368.27 L149.26,368.27 L149.93,368.27 L150.59,368.27 L151.26,368.27 L151.92,368.27 L152.59,368.28 L153.25,368.28 L153.92,368.29 L154.58,368.29 L155.25,368.30 L155.91,368.30 L156.58,368.31 L157.24,368.32 L157.91,368.33 L158.57,368.34 L159.24,368.34 L159.90,368.35 L160.57,368.36 L161.23,368.37 L161.90,368.38 L162.56,368.39 L163.23,368.40 L163.89,368.41 L164.56,368.42 L165.22,368.43 L165.89,368.44 L166.56,368.45 L167.22,368.45 L167.89,368.46 L168.55,368.46 L169.22,368.47 L169.88,368.47 L170.55,368.47 L171.21,368.47 L171.88,368.46 L172.54,368.46 L173.21,368.45 L173.87,368.44 L174.54,368.43 L175.20,368.42 L175.87,368.40 L176.53,368.39 L177.20,368.37 L177.86,368.35 L178.53,368.34 L179.19,368.32 L179.86,368.29 L180.52,368.27 L181.19,368.25 L181.85,368.22 L182.52,368.18 L183.18,368.14 L183.85,368.10 L184.51,368.05 L185.18,368.00 L185.84,367.95 L186.51,367.89 L187.17,367.83 L187.84,367.76 L188.51,367.68 L189.17,367.60 L189.84,367.51 L190.50,367.41 L191.17,367.30 L191.83,367.18 L192.50,367.04 L193.16,366.88 L193.83,366.72 L194.49,366.53 L195.16,366.32 L195.82,366.09 L196.49,365.84 L197.15,365.55 L197.82,365.25 L198.48,364.91 L199.15,364.54 L199.81,364.15 L200.48,363.73 L201.14,363.28 L201.81,362.81 L202.47,362.32 L203.14,361.81 L203.80,361.29 L204.47,360.75 L205.13,360.21 L205.80,359.66 L206.46,359.11 L207.13,358.50 L207.79,357.87 L208.46,357.24 L209.12,356.60 L209.79,355.96 L210.45,355.31 L211.12,354.67 L211.79,354.02 L212.45,353.38 L213.12,352.73 L213.78,352.07 L214.45,351.40 L215.11,350.73 L215.78,350.04 L216.44,349.34 L217.11,348.63 L217.77,347.90 L218.44,347.16 L219.10,346.40 L219.77,345.63 L220.43,344.83 L221.10,344.03 L221.76,343.21 L222.43,342.39 L223.09,341.55 L223.76,340.71 L224.42,339.87 L225.09,339.03 L225.75,338.19 L226.42,337.35 L227.08,336.52 L227.75,335.69 L228.41,334.87 L229.08,334.06 L229.74,333.25 L230.41,332.46 L231.07,331.67 L231.74,330.88 L232.40,330.11 L233.07,329.34 L233.73,328.59 L234.40,327.84 L235.07,327.10 L235.73,326.38 L236.40,325.66 L237.06,324.96 L237.73,324.26 L238.39,323.58 L239.06,322.91 L239.72,322.25 L240.39,321.60 L241.05,320.96 L241.72,320.33 L242.38,319.71 L243.05,319.09 L243.71,318.49 L244.38,317.90 L245.04,317.32 L245.71,316.74 L246.37,316.17 L247.04,315.61 L247.70,315.05 L248.37,314.51 L249.03,313.97 L249.70,313.44 L250.36,312.92 L251.03,312.41 L251.69,311.90 L252.36,311.41 L253.02,310.92 L253.69,310.45 L254.35,309.98 L255.02,309.53 L255.68,309.08 L256.35,308.64 L257.02,308.21 L257.68,307.79 L258.35,307.38 L259.01,306.98 L259.68,306.59 L260.34,306.20 L261.01,305.83 L261.67,305.46 L262.34,305.09 L263.00,304.74 L263.67,304.39 L264.33,304.05 L265.00,303.71 L265.66,303.38 L266.33,303.06 L266.99,302.75 L267.66,302.44 L268.32,302.14 L268.99,301.84 L269.65,301.55 L270.32,301.27 L270.98,301.00 L271.65,300.73 L272.31,300.47 L272.98,300.22 L273.64,299.98 L274.31,299.74 L274.97,299.51 L275.64,299.28 L276.30,299.07 L276.97,298.86 L277.63,298.66 L278.30,298.47 L278.96,298.28 L279.63,298.11 L280.30,297.94 L280.96,297.79 L281.63,297.64 L282.29,297.51 L282.96,297.38 L283.62,297.27 L284.29,297.16 L284.95,297.07 L285.62,296.98 L286.28,296.91 L286.95,296.85 L287.61,296.80 L288.28,296.76 L288.94,296.73 L289.61,296.71 L290.27,296.70 L290.94,296.71 L291.60,296.72 L292.27,296.75 L292.93,296.79 L293.60,296.84 L294.26,296.90 L294.93,296.97 L295.59,297.05 L296.26,297.15 L296.92,297.25 L297.59,297.36 L298.25,297.47 L298.92,297.60 L299.58,297.74 L300.25,297.88 L300.91,298.03 L301.58,298.19 L302.25,298.35 L302.91,298.53 L303.58,298.70 L304.24,298.89 L304.91,299.08 L305.57,299.27 L306.24,299.48 L306.90,299.69 L307.57,299.90 L308.23,300.12 L308.90,300.35 L309.56,300.58 L310.23,300.82 L310.89,301.07 L311.56,301.32 L312.22,301.58 L312.89,301.85 L313.55,302.12 L314.22,302.40 L314.88,302.68 L315.55,302.97 L316.21,303.27 L316.88,303.57 L317.54,303.87 L318.21,304.17 L318.87,304.48 L319.54,304.78 L320.20,305.09 L320.87,305.40 L321.53,305.71 L322.20,306.02 L322.86,306.33 L323.53,306.63 L324.19,306.94 L324.86,307.24 L325.53,307.54 L326.19,307.83 L326.86,308.13 L327.52,308.42 L328.19,308.71 L328.85,308.99 L329.52,309.27 L330.18,309.55 L330.85,309.83 L331.51,310.10 L332.18,310.36 L332.84,310.62 L333.51,310.88 L334.17,311.13 L334.84,311.37 L335.50,311.61 L336.17,311.84 L336.83,312.06 L337.50,312.27 L338.16,312.46 L338.83,312.65 L339.49,312.81 L340.16,312.95 L340.82,313.07 L341.49,313.16 L342.15,313.23 L342.82,313.26 L343.48,313.27 L344.15,313.26 L344.81,313.23 L345.48,313.18 L346.14,313.08 L346.81,312.86 L347.48,312.63 L348.14,312.38 L348.81,312.11 L349.47,311.81 L350.14,311.47 L350.80,311.10 L351.47,310.69 L352.13,310.23 L352.80,309.73 L353.46,309.18 L354.13,308.58 L354.79,307.94 L355.46,307.25 L356.12,306.52 L356.79,305.74 L357.45,304.92 L358.12,304.05 L358.78,303.13 L359.45,302.19 L360.11,301.24 L360.78,300.25 L361.44,299.22 L362.11,298.12 L362.77,296.87 L363.44,295.45 L364.10,293.99 L364.77,292.48 L365.43,290.93 L366.10,289.35 L366.76,287.74 L367.43,286.10 L368.09,284.43 L368.76,282.75 L369.42,281.06 L370.09,279.35 L370.76,277.64 L371.42,275.92 L372.09,274.19 L372.75,272.47 L373.42,270.74 L374.08,269.00 L374.75,267.26 L375.41,265.51 L376.08,263.74 L376.74,261.96 L377.41,260.16 L378.07,258.35 L378.74,256.51 L379.40,254.66 L380.07,252.79 L380.73,250.91 L381.40,249.03 L382.06,247.15 L382.73,245.28 L383.39,243.41 L384.06,241.54 L384.72,239.69 L385.39,237.85 L386.05,236.01 L386.72,234.18 L387.38,232.36 L388.05,230.53 L388.71,228.71 L389.38,226.90 L390.04,225.09 L390.71,223.28 L391.37,221.49 L392.04,219.71 L392.71,217.94 L393.37,216.20 L394.04,214.48 L394.70,212.79 L395.37,211.12 L396.03,209.49 L396.70,207.88 L397.36,206.30 L398.03,204.74 L398.69,203.21 L399.36,201.70 L400.02,200.22 L400.69,198.75 L401.35,197.30 L402.02,195.87 L402.68,194.46 L403.35,193.07 L404.01,191.70 L404.68,190.35 L405.34,189.03 L406.01,187.73 L406.67,186.45 L407.34,185.20 L408.00,183.98 L408.67,182.79 L409.33,181.62 L410.00,180.48 L410.66,179.37 L411.33,178.28 L411.99,177.21 L412.66,176.17 L413.32,175.15 L413.99,174.15 L414.65,173.18 L415.32,172.22 L415.99,171.28 L416.65,170.35 L417.32,169.45 L417.98,168.55 L418.65,167.68 L419.31,166.82 L419.98,165.97 L420.64,165.14 L421.31,164.32 L421.97,163.51 L422.64,162.72 L423.30,161.95 L423.97,161.20 L424.63,160.47 L425.30,159.76 L425.96,159.08 L426.63,158.42 L427.29,157.79 L427.96,157.18 L428.62,156.61 L429.29,156.06 L429.95,155.55 L430.62,155.07 L431.28,154.62 L431.95,154.20 L432.61,153.81 L433.28,153.44 L433.94,153.11 L434.61,152.81 L435.27,152.54 L435.94,152.29 L436.60,152.08 L437.27,151.89 L437.93,151.73 L438.60,151.60 L439.27,151.50 L439.93,151.43 L440.60,151.38 L441.26,151.37 L441.93,151.38 L442.59,151.43 L443.26,151.51 L443.92,151.61 L444.59,151.75 L445.25,151.92 L445.92,152.11 L446.58,152.33 L447.25,152.58 L447.91,152.85 L448.58,153.14 L449.24,153.45 L449.91,153.78 L450.57,154.14 L451.24,154.50 L451.90,154.88 L452.57,155.28 L453.23,155.69 L453.90,156.11 L454.56,156.54 L455.23,157.00 L455.89,157.46 L456.56,157.95 L457.22,158.46 L457.89,158.99 L458.55,159.55 L459.22,160.14 L459.88,160.75 L460.55,161.40 L461.22,162.08 L461.88,162.79 L462.55,163.54 L463.21,164.31 L463.88,165.12 L464.54,165.95 L465.21,166.81 L465.87,167.68 L466.54,168.58 L467.20,169.49 L467.87,170.42 L468.53,171.36 L469.20,172.30 L469.86,173.26 L470.53,174.21 L471.19,175.17 L471.86,176.13 L472.52,177.09 L473.19,178.05 L473.85,179.01 L474.52,179.97 L475.18,180.92 L475.85,181.87 L476.51,182.82 L477.18,183.76 L477.84,184.70 L478.51,185.64 L479.17,186.59 L479.84,187.54 L480.50,188.51 L481.17,189.49 L481.83,190.49 L482.50,191.51 L483.16,192.53 L483.83,193.57 L484.50,194.60 L485.16,195.64 L485.83,196.67 L486.49,197.69 L487.16,198.69 L487.82,199.68 L488.49,200.64 L489.15,201.58 L489.82,202.50 L490.48,203.38 L491.15,204.25 L491.81,205.08 L492.48,205.90 L493.14,206.69 L493.81,207.46 L494.47,208.22 L495.14,208.95 L495.80,209.66 L496.47,210.33 L497.13,210.96 L497.80,211.53 L498.46,212.03 L499.13,212.46 L499.79,212.82 L500.46,213.11 L501.12,213.32 L501.79,213.46 L502.45,213.43 L503.12,213.12 L503.78,212.75 L504.45,212.32 L505.11,211.84 L505.78,211.31 L506.45,210.73 L507.11,210.09 L507.78,209.38 L508.44,208.56 L509.11,207.64 L509.77,206.59 L510.44,205.40 L511.10,204.08 L511.77,202.66 L512.43,201.16 L513.10,199.59 L513.76,198.01 L514.43,196.44 L515.09,194.94 L515.76,193.30 L516.42,191.58 L517.09,190.01" fill="none" stroke="#00ff00" stroke-width="2" stroke-linejoin="round" stroke-linecap="butt"/>
<path d="M52.15,378.35 L52.82,378.27 L53.48,378.18 L54.15,378.10 L54.81,378.02 L55.48,377.93 L56.14,377.85 L56.81,377.77 L57.47,377.68 L58.14,377.60 L58.80,377.52 L59.47,377.43 L60.13,377.35 L60.80,377.26 L61.46,377.18 L62.13,377.10 L62.79,377.01 L63.46,376.93 L64.12,376.85 L64.79,376.76 L65.45,376.68 L66.12,376.59 L66.78,376.51 L67.45,376.43 L68.11,376.34 L68.78,376.26 L69.44,376.18 L70.11,376.09 L70.77,376.01 L71.44,375.93 L72.10,375.84 L72.77,375.76 L73.43,375.68 L74.10,375.59 L74.76,375.51 L75.43,375.43 L76.10,375.35 L76.76,375.26 L77.43,375.18 L78.09,375.10 L78.76,375.02 L79.42,374.94 L80.09,374.86 L80.75,374.78 L81.42,374.69 L82.08,374.61 L82.75,374.53 L83.41,374.45 L84.08,374.37 L84.74,374.29 L85.41,374.21 L86.07,374.14 L86.74,374.06 L87.40,373.98 L88.07,373.90 L88.73,373.82 L89.40,373.74 L90.06,373.67 L90.73,373.59 L91.39,373.51 L92.06,373.44 L92.72,373.36 L93.39,373.28 L94.05,373.21 L94.72,373.13 L95.38,373.06 L96.05,372.98 L96.71,372.91 L97.38,372.84 L98.05,372.76 L98.71,372.69 L99.38,372.62 L100.04,372.54 L100.71,372.47 L101.37,372.40 L102.04,372.33 L102.70,372.26 L103.37,372.19 L104.03,372.12 L104.70,372.05 L105.36,371.98 L106.03,371.92 L106.69,371.85 L107.36,371.78 L108.02,371.71 L108.69,371.65 L109.35,371.58 L110.02,371.52 L110.68,371.46 L111.35,371.39 L112.01,371.33 L112.68,371.27 L113.34,371.21 L114.01,371.15 L114.67,371.09 L115.34,371.03 L116.00,370.97 L116.67,370.91 L117.33,370.85 L118.00,370.80 L118.66,370.74 L119.33,370.69 L119.99,370.63 L120.66,370.58 L121.33,370.53 L121.99,370.48 L122.66,370.43 L123.32,370.38 L123.99,370.33 L124.65,370.28 L125.32,370.23 L125.98,370.19 L126.65,370.14 L127.31,370.10 L127.98,370.06 L128.64,370.02 L129.31,369.98 L129.97,369.94 L130.64,369.90 L131.30,369.86 L131.97,369.82 L132.63,369.79 L133.30,369.75 L133.96,369.72 L134.63,369.69 L135.29,369.65 L135.96,369.62 L136.62,369.59 L137.29,369.56 L137.95,369.54 L138.62,369.51 L139.28,369.48 L139.95,369.46 L140.61,369.43 L141.28,369.41 L141.94,369.38 L142.61,369.36 L143.28,369.34 L143.94,369.32 L144.61,369.30 L145.27,369.28 L145.94,369.26 L146.60,369.24 L147.27,369.23 L147.93,369.21 L148.60,369.19 L149.26,369.18 L149.93,369.16 L150.59,369.15 L151.26,369.13 L151.92,369.12 L152.59,369.11 L153.25,369.10 L153.92,369.08 L154.58,369.07 L155.25,369.06 L155.91,369.05 L156.58,369.04 L157.24,369.03 L157.91,369.02 L158.57,369.01 L159.24,369.00 L159.90,368.99 L160.57,368.98 L161.23,368.97 L161.90,368.97 L162.56,368.96 L163.23,368.95 L163.89,368.94 L164.56,368.93 L165.22,368.92 L165.89,368.91 L166.56,368.89 L167.22,368.88 L167.89,368.87 L168.55,368.85 L169.22,368.83 L169.88,368.82 L170.55,368.80 L171.21,368.78 L171.88,368.75 L172.54,368.73 L173.21,368.70 L173.87,368.67 L174.54,368.64 L175.20,368.61 L175.87,368.57 L176.53,368.54 L177.20,368.50 L177.86,368.46 L178.53,368.42 L179.19,368.38 L179.86,368.34 L180.52,368.30 L181.19,368.25 L181.85,368.21 L182.52,368.16 L183.18,368.11 L183.85,368.06 L184.51,368.01 L185.18,367.95 L185.84,367.89 L186.51,367.82 L187.17,367.74 L187.84,367.66 L188.51,367.57 L189.17,367.48 L189.84,367.37 L190.50,367.25 L191.17,367.13 L191.83,366.98 L192.50,366.83 L193.16,366.66 L193.83,366.47 L194.49,366.27 L195.16,366.04 L195.82,365.79 L196.49,365.52 L197.15,365.23 L197.82,364.92 L198.48,364.58 L199.15,364.23 L199.81,363.84 L200.48,363.44 L201.14,363.00 L201.81,362.55 L202.47,362.08 L203.14,361.60 L203.80,361.10 L204.47,360.60 L205.13,360.10 L205.80,359.59 L206.46,359.10 L207.13,358.60 L207.79,358.11 L208.46,357.62 L209.12,357.14 L209.79,356.65 L210.45,356.17 L211.12,355.68 L211.79,355.19 L212.45,354.70 L213.12,354.20 L213.78,353.70 L214.45,353.19 L215.11,352.67 L215.78,352.14 L216.44,351.61 L217.11,351.06 L217.77,350.50 L218.44,349.93 L219.10,349.34 L219.77,348.74 L220.43,348.13 L221.10,347.49 L221.76,346.85 L222.43,346.20 L223.09,345.53 L223.76,344.86 L224.42,344.19 L225.09,343.51 L225.75,342.83 L226.42,342.16 L227.08,341.48 L227.75,340.81 L228.41,340.15 L229.08,339.49 L229.74,338.83 L230.41,338.19 L231.07,337.55 L231.74,336.92 L232.40,336.30 L233.07,335.69 L233.73,335.08 L234.40,334.49 L235.07,333.90 L235.73,333.33 L236.40,332.76 L237.06,332.21 L237.73,331.67 L238.39,331.13 L239.06,330.61 L239.72,330.10 L240.39,329.59 L241.05,329.09 L241.72,328.60 L242.38,328.12 L243.05,327.64 L243.71,327.17 L244.38,326.71 L245.04,326.25 L245.71,325.80 L246.37,325.34 L247.04,324.90 L247.70,324.46 L248.37,324.02 L249.03,323.58 L249.70,323.16 L250.36,322.73 L251.03,322.32 L251.69,321.91 L252.36,321.50 L253.02,321.10 L253.69,320.71 L254.35,320.33 L255.02,319.95 L255.68,319.58 L256.35,319.22 L257.02,318.86 L257.68,318.52 L258.35,318.18 L259.01,317.84 L259.68,317.51 L260.34,317.19 L261.01,316.88 L261.67,316.56 L262.34,316.26 L263.00,315.96 L263.67,315.66 L264.33,315.37 L265.00,315.09 L265.66,314.80 L266.33,314.53 L266.99,314.25 L267.66,313.98 L268.32,313.72 L268.99,313.46 L269.65,313.20 L270.32,312.95 L270.98,312.70 L271.65,312.46 L272.31,312.22 L272.98,311.98 L273.64,311.75 L274.31,311.52 L274.97,311.30 L275.64,311.08 L276.30,310.87 L276.97,310.66 L277.63,310.46 L278.30,310.26 L278.96,310.07 L279.63,309.89 L280.30,309.71 L280.96,309.54 L281.63,309.38 L282.29,309.23 L282.96,309.09 L283.62,308.95 L284.29,308.82 L284.95,308.70 L285.62,308.59 L286.28,308.49 L286.95,308.40 L287.61,308.32 L288.28,308.25 L288.94,308.19 L289.61,308.13 L290.27,308.09 L290.94,308.05 L291.60,308.03 L292.27,308.01 L292.93,308.01 L293.60,308.01 L294.26,308.03 L294.93,308.05 L295.59,308.08 L296.26,308.11 L296.92,308.16 L297.59,308.21 L298.25,308.27 L298.92,308.33 L299.58,308.40 L300.25,308.47 L300.91,308.55 L301.58,308.63 L302.25,308.72 L302.91,308.81 L303.58,308.90 L304.24,308.99 L304.91,309.09 L305.57,309.19 L306.24,309.29 L306.90,309.40 L307.57,309.51 L308.23,309.62 L308.90,309.74 L309.56,309.86 L310.23,309.98 L310.89,310.11 L311.56,310.24 L312.22,310.37 L312.89,310.51 L313.55,310.66 L314.22,310.80 L314.88,310.95 L315.55,311.10 L316.21,311.26 L316.88,311.42 L317.54,311.57 L318.21,311.74 L318.87,311.90 L319.54,312.06 L320.20,312.22 L320.87,312.38 L321.53,312.54 L322.20,312.70 L322.86,312.86 L323.53,313.01 L324.19,313.16 L324.86,313.31 L325.53,313.46 L326.19,313.60 L326.86,313.74 L327.52,313.87 L328.19,314.00 L328.85,314.12 L329.52,314.24 L330.18,314.35 L330.85,314.46 L331.51,314.56 L332.18,314.65 L332.84,314.73 L333.51,314.81 L334.17,314.88 L334.84,314.93 L335.50,314.98 L336.17,315.01 L336.83,315.04 L337.50,315.05 L338.16,315.05 L338.83,315.02 L339.49,314.98 L340.16,314.91 L340.82,314.81 L341.49,314.68 L342.15,314.52 L342.82,314.33 L343.48,314.11 L344.15,313.88 L344.81,313.62 L345.48,313.35 L346.14,313.06 L346.81,312.76 L347.48,312.45 L348.14,312.12 L348.81,311.76 L349.47,311.39 L350.14,310.98 L350.80,310.54 L351.47,310.07 L352.13,309.56 L352.80,309.02 L353.46,308.44 L354.13,307.82 L354.79,307.18 L355.46,306.49 L356.12,305.78 L356.79,305.04 L357.45,304.26 L358.12,303.46 L358.78,302.62 L359.45,301.76 L360.11,300.87 L360.78,299.95 L361.44,299.01 L362.11,298.04 L362.77,297.05 L363.44,296.04 L364.10,295.00 L364.77,293.94 L365.43,292.87 L366.10,291.77 L366.76,290.66 L367.43,289.53 L368.09,288.38 L368.76,287.22 L369.42,286.05 L370.09,284.87 L370.76,283.69 L371.42,282.49 L372.09,281.29 L372.75,280.09 L373.42,278.88 L374.08,277.66 L374.75,276.43 L375.41,275.19 L376.08,273.94 L376.74,272.67 L377.41,271.38 L378.07,270.08 L378.74,268.75 L379.40,267.40 L380.07,266.04 L380.73,264.66 L381.40,263.27 L382.06,261.87 L382.73,260.47 L383.39,259.06 L384.06,257.65 L384.72,256.25 L385.39,254.85 L386.05,253.46 L386.72,252.07 L387.38,250.69 L388.05,249.31 L388.71,247.93 L389.38,246.56 L390.04,245.20 L390.71,243.84 L391.37,242.48 L392.04,241.13 L392.71,239.79 L393.37,238.45 L394.04,237.12 L394.70,235.79 L395.37,234.48 L396.03,233.17 L396.70,231.88 L397.36,230.60 L398.03,229.33 L398.69,228.07 L399.36,226.83 L400.02,225.60 L400.69,224.39 L401.35,223.20 L402.02,222.03 L402.68,220.87 L403.35,219.73 L404.01,218.61 L404.68,217.51 L405.34,216.43 L406.01,215.36 L406.67,214.32 L407.34,213.29 L408.00,212.29 L408.67,211.30 L409.33,210.33 L410.00,209.38 L410.66,208.46 L411.33,207.55 L411.99,206.66 L412.66,205.79 L413.32,204.93 L413.99,204.10 L414.65,203.28 L415.32,202.47 L415.99,201.68 L416.65,200.90 L417.32,200.13 L417.98,199.38 L418.65,198.64 L419.31,197.91 L419.98,197.18 L420.64,196.47 L421.31,195.77 L421.97,195.08 L422.64,194.40 L423.30,193.73 L423.97,193.08 L424.63,192.45 L425.30,191.83 L425.96,191.22 L426.63,190.64 L427.29,190.07 L427.96,189.52 L428.62,189.00 L429.29,188.49 L429.95,188.00 L430.62,187.54 L431.28,187.10 L431.95,186.67 L432.61,186.27 L433.28,185.90 L433.94,185.54 L434.61,185.21 L435.27,184.90 L435.94,184.61 L436.60,184.35 L437.27,184.11 L437.93,183.90 L438.60,183.71 L439.27,183.54 L439.93,183.40 L440.60,183.29 L441.26,183.20 L441.93,183.14 L442.59,183.10 L443.26,183.10 L443.92,183.11 L444.59,183.16 L445.25,183.23 L445.92,183.32 L446.58,183.44 L447.25,183.57 L447.91,183.72 L448.58,183.89 L449.24,184.08 L449.91,184.27 L450.57,184.48 L451.24,184.70 L451.90,184.93 L452.57,185.16 L453.23,185.40 L453.90,185.65 L454.56,185.91 L455.23,186.18 L455.89,186.46 L456.56,186.76 L457.22,187.07 L457.89,187.40 L458.55,187.75 L459.22,188.11 L459.88,188.50 L460.55,188.91 L461.22,189.33 L461.88,189.78 L462.55,190.24 L463.21,190.72 L463.88,191.21 L464.54,191.72 L465.21,192.24 L465.87,192.76 L466.54,193.30 L467.20,193.84 L467.87,194.40 L468.53,194.95 L469.20,195.51 L469.86,196.08 L470.53,196.64 L471.19,197.21 L471.86,197.79 L472.52,198.36 L473.19,198.93 L473.85,199.50 L474.52,200.07 L475.18,200.64 L475.85,201.20 L476.51,201.76 L477.18,202.32 L477.84,202.88 L478.51,203.43 L479.17,203.98 L479.84,204.53 L480.50,205.08 L481.17,205.63 L481.83,206.18 L482.50,206.72 L483.16,207.27 L483.83,207.81 L484.50,208.35 L485.16,208.88 L485.83,209.40 L486.49,209.91 L487.16,210.41 L487.82,210.89 L488.49,211.35 L489.15,211.78 L489.82,212.19 L490.48,212.58 L491.15,212.93 L491.81,213.26 L492.48,213.56 L493.14,213.84 L493.81,214.10 L494.47,214.34 L495.14,214.57 L495.80,214.76 L496.47,214.92 L497.13,215.03 L497.80,215.08 L498.46,215.05 L499.13,214.95 L499.79,214.77 L500.46,214.52 L501.12,214.20 L501.79,213.81 L502.45,213.36 L503.12,212.85 L503.78,212.28 L504.45,211.67 L505.11,211.01 L505.78,210.32 L506.45,209.60 L507.11,208.83 L507.78,208.01 L508.44,207.12 L509.11,206.15 L509.77,205.08 L510.44,203.92 L511.10,202.66 L511.77,201.35 L512.43,200.00 L513.10,198.65 L513.76,197.32 L514.43,196.02 L515.09,194.81 L515.76,193.68 L516.42,192.68 L517.09,191.83" fill="none" stroke="#0000ff" stroke-width="2" stroke-linejoin="round" stroke-linecap="butt"/>
<line x1="86" x2="187" y1="30.2" y2="30.2" stroke="#ff00ff" stroke-width="2"/><text class="cam" x="197.4" y="36.7" font-size="20.8">T</text><text class="cam" transform="translate(211.05,36.7) scale(0.84,1)" font-size="20.8">*</text><text class="cam" transform="translate(220.2,36.7) scale(1.2,1)" font-size="20.8">=</text><text class="cam" x="235 246.2 251.3 262.4 272.9" y="36.7" font-size="20.8">0.255</text>
<line x1="86" x2="187" y1="51.1" y2="51.1" stroke="#000000" stroke-width="2"/><text class="cam" x="197.4" y="57.6" font-size="20.8">T</text><text class="cam" transform="translate(211.05,57.6) scale(0.84,1)" font-size="20.8">*</text><text class="cam" transform="translate(220.2,57.6) scale(1.2,1)" font-size="20.8">=</text><text class="cam" x="235 246.2 251.3 262.4 272.9" y="57.6" font-size="20.8">0.260</text>
<line x1="86" x2="187" y1="72.0" y2="72.0" stroke="#6e0016" stroke-width="2"/><text class="cam" x="197.4" y="78.5" font-size="20.8">T</text><text class="cam" transform="translate(211.05,78.5) scale(0.84,1)" font-size="20.8">*</text><text class="cam" transform="translate(220.2,78.5) scale(1.2,1)" font-size="20.8">=</text><text class="cam" x="235 246.2 251.3 262.4 272.9" y="78.5" font-size="20.8">0.280</text>
<line x1="86" x2="187" y1="93.0" y2="93.0" stroke="#ff0000" stroke-width="2"/><text class="cam" x="197.4" y="99.5" font-size="20.8">T</text><text class="cam" transform="translate(211.05,99.5) scale(0.84,1)" font-size="20.8">*</text><text class="cam" transform="translate(220.2,99.5) scale(1.2,1)" font-size="20.8">=</text><text class="cam" x="235 246.2 251.3 262.4 272.9" y="99.5" font-size="20.8">0.300</text>
<line x1="86" x2="187" y1="114.0" y2="114.0" stroke="#00ff00" stroke-width="2"/><text class="cam" x="197.4" y="120.5" font-size="20.8">T</text><text class="cam" transform="translate(211.05,120.5) scale(0.84,1)" font-size="20.8">*</text><text class="cam" transform="translate(220.2,120.5) scale(1.2,1)" font-size="20.8">=</text><text class="cam" x="235 246.2 251.3 262.4 272.9" y="120.5" font-size="20.8">0.320</text>
<line x1="86" x2="187" y1="134.8" y2="134.8" stroke="#0000ff" stroke-width="2"/><text class="cam" x="197.4" y="141.3" font-size="20.8">T</text><text class="cam" transform="translate(211.05,141.3) scale(0.84,1)" font-size="20.8">*</text><text class="cam" transform="translate(220.2,141.3) scale(1.2,1)" font-size="20.8">=</text><text class="cam" x="235 246.2 251.3 262.4 272.9" y="141.3" font-size="20.8">0.350</text>
<text class="cam" x="231" y="423.3" font-size="22" textLength="104.3" lengthAdjust="spacingAndGlyphs">Density, ρ*</text>
<g class="sans"><text class="sans" x="11.9" y="425.4" font-size="21.8" textLength="6.6" lengthAdjust="spacingAndGlyphs">(</text><text class="sans" x="20.6" y="425.5" font-size="25" textLength="13.9" lengthAdjust="spacingAndGlyphs">a</text><text class="sans" x="35.7" y="425.4" font-size="21.8" textLength="6.6" lengthAdjust="spacingAndGlyphs">)</text></g>
<g transform="translate(16.4,315.3) rotate(-90)"><text class="cam" x="0" y="0" font-size="22.5" textLength="243.1" lengthAdjust="spacingAndGlyphs">Isochoric heat capacity, c</text><text class="cam" x="243.4" y="-4.7" font-size="16">*</text><text class="cam" x="243.2" y="4" font-size="14">V</text></g>
</svg></body></html>
